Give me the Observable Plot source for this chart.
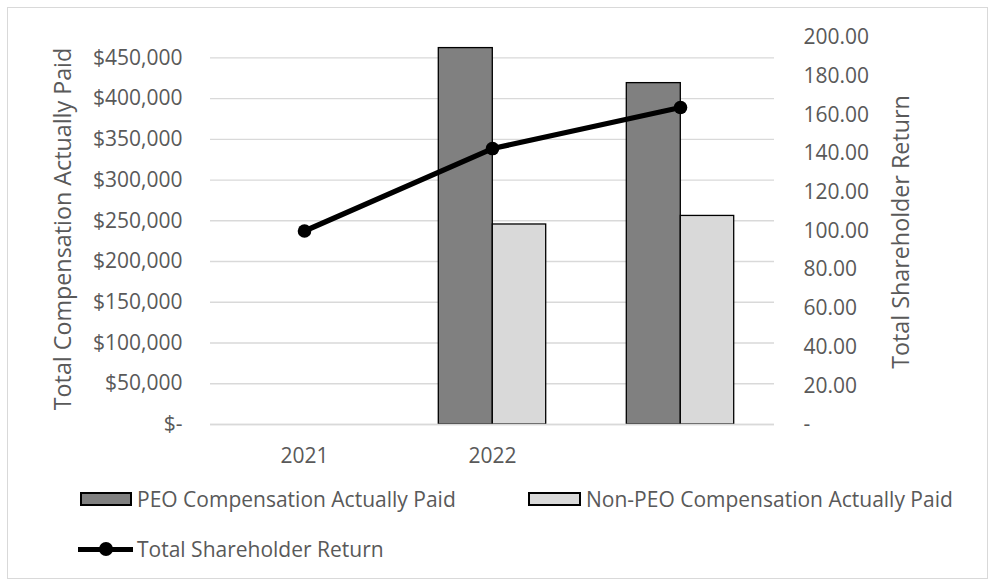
<!DOCTYPE html>
<html>
<head>
<meta charset="utf-8">
<script src="https://cdn.jsdelivr.net/npm/d3@7"></script>
<script src="https://cdn.jsdelivr.net/npm/@observablehq/plot@0.6"></script>
<style>
  html, body { margin: 0; padding: 0; background: #fff; }
  #wrap { position: relative; width: 995px; height: 586px; overflow: hidden; font-family: "Open Sans", sans-serif; color: #595959; }
  #frame { position: absolute; left: 7px; top: 7px; width: 981px; height: 572px; border: 1.5px solid #d9d9d9; box-sizing: border-box; }
  #chart { position: absolute; left: 0; top: 0; }
  .ttl { position: absolute; font-size: 23.3px; line-height: 30px; white-space: nowrap; text-align: center; }
  .leg { position: absolute; font-size: 21px; line-height: 28px; white-space: nowrap; }
  .sw { position: absolute; box-sizing: border-box; border: 2px solid #000; }
</style>
</head>
<body>
<div id="wrap">
  <div id="frame"></div>
  <div id="chart"></div>
  <div class="ttl" id="ltitle">Total Compensation Actually Paid</div>
  <div class="ttl" id="rtitle">Total Shareholder Return</div>
  <div class="sw" style="left:80px;top:492px;width:52px;height:14px;background:#808080"></div>
  <div class="leg" style="left:137px;top:485px">PEO Compensation Actually Paid</div>
  <div class="sw" style="left:528px;top:492px;width:53px;height:14px;background:#d9d9d9"></div>
  <div class="leg" style="left:586px;top:485px">Non-PEO Compensation Actually Paid</div>
  <div style="position:absolute;left:78px;top:546.5px;width:55px;height:5px;background:#000"></div>
  <div style="position:absolute;left:99px;top:542px;width:14px;height:14px;border-radius:50%;background:#000"></div>
  <div class="leg" style="left:137px;top:535px">Total Shareholder Return</div>
</div>
<script>
// ---- data ----
const categories = ["2021", "2022", "2023"];
const xTickLabels = ["2021", "2022", ""];
const peoCAP = [null, 462000, 419000];
const nonPeoCAP = [null, 245500, 256000];
const tsr = [100, 142.6, 163.8];
const leftTicks = [0, 50000, 100000, 150000, 200000, 250000, 300000, 350000, 400000, 450000];
const rightTicks = [0, 20, 40, 60, 80, 100, 120, 140, 160, 180, 200];
const leftMax = 475000;
const rightMax = 200;

// ---- build ----
const k = leftMax / rightMax; // right axis -> left axis units
const rows = categories.map((c, i) => ({cat: c, peo: peoCAP[i], non: nonPeoCAP[i], tsr: tsr[i] == null ? null : tsr[i] * k}));
const barRows = rows.filter(d => d.peo != null);
const labelOf = new Map(categories.map((c, i) => [c, xTickLabels[i]]));
const fmtLeft = d => d === 0 ? "$-" : "$" + d3.format(",")(d);
const fmtRight = d => { const v = Math.round(d / k * 100) / 100; return v === 0 ? "-" : v.toFixed(2); };

const chart = Plot.plot({
  width: 995,
  height: 480,
  marginTop: 37,
  marginBottom: 56,
  marginLeft: 210,
  marginRight: 221,
  style: {fontFamily: "Open Sans", fontSize: "21px", color: "#595959", background: "transparent", overflow: "visible"},
  x: {domain: categories, padding: 0},
  y: {domain: [0, leftMax]},
  marks: [
    Plot.gridY(leftTicks, {stroke: "#d9d9d9", strokeOpacity: 1, strokeWidth: 1.4}),
    Plot.barY(barRows, {x: "cat", y: "peo", fill: "#808080", stroke: "#000", strokeWidth: 1.3, insetLeft: 40.3, insetRight: 93.7}),
    Plot.barY(barRows, {x: "cat", y: "non", fill: "#d9d9d9", stroke: "#000", strokeWidth: 1.3, insetLeft: 94.3, insetRight: 40.3}),
    Plot.ruleY([0], {stroke: "#d9d9d9", strokeWidth: 1.6}),
    Plot.line(rows, {x: "cat", y: "tsr", stroke: "#000", strokeWidth: 5.2, strokeLinejoin: "round"}),
    Plot.dot(rows, {x: "cat", y: "tsr", r: 6.8, fill: "#000", stroke: "none"}),
    Plot.axisX({tickSize: 0, tickPadding: 24, tickFormat: d => labelOf.get(d), label: null, fontSize: 21}),
    Plot.axisY(leftTicks, {anchor: "left", tickSize: 0, tickPadding: 28, tickFormat: fmtLeft, label: null, fontSize: 21}),
    Plot.axisY(rightTicks.map(t => t * k), {anchor: "right", tickSize: 0, tickPadding: 29, tickFormat: fmtRight, label: null, fontSize: 21})
  ]
});
document.getElementById("chart").appendChild(chart);

// axis titles (rotated)
function placeTitle(id, cx, cy) {
  const el = document.getElementById(id);
  const w = el.offsetWidth, h = el.offsetHeight;
  el.style.left = (cx - w / 2) + "px";
  el.style.top = (cy - h / 2) + "px";
  el.style.transform = "rotate(-90deg)";
}
placeTitle("ltitle", 62, 229);
placeTitle("rtitle", 900, 232);
</script>
</body>
</html>
